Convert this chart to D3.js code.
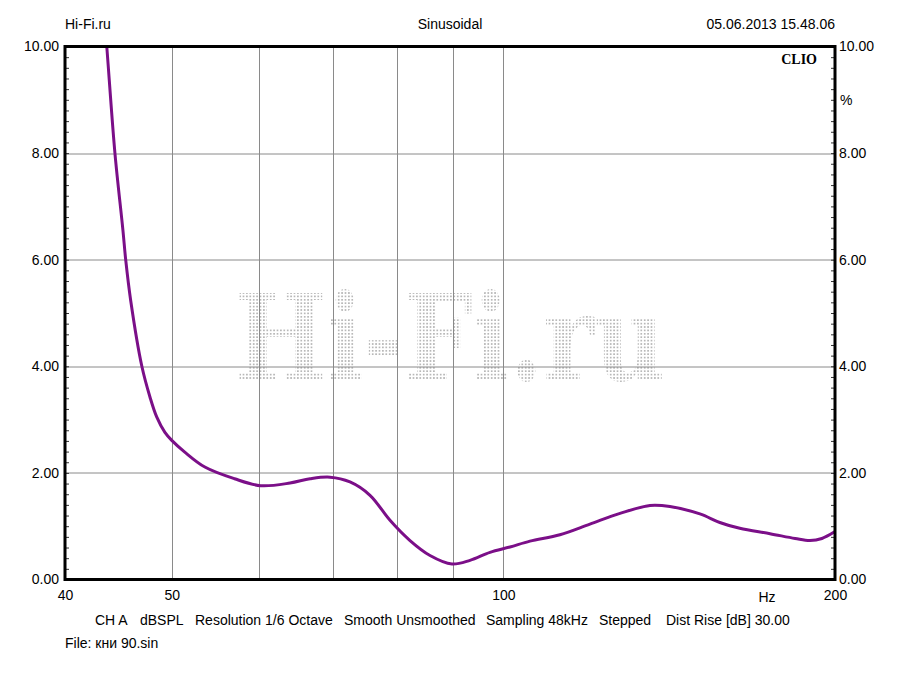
<!DOCTYPE html>
<html>
<head>
<meta charset="utf-8">
<script src="https://cdn.jsdelivr.net/npm/d3@7"></script>
<style>
  body { margin: 0; background: #fff; }
  text { font-family: "Liberation Sans", Arial, sans-serif; font-size: 14px; fill: #000; }
</style>
</head>
<body>
<div id="chart"></div>
<script>
// measured curve (Hz, %)
var freqs = [43.2, 43.65, 44.4, 45.15, 45.41, 45.89, 46.97, 47.78, 48.45, 49.29, 50.0,
    51.38, 53.58, 57.01, 60.2, 64.02, 66.76, 69.6, 72.57, 75.67, 78.9, 82.27, 85.78,
    89.81, 93.26, 97.24, 101.39, 105.72, 112.54, 119.83, 127.6, 135.86, 141.65, 150.8,
    157.2, 163.9, 174.6, 184.0, 189.8, 194.6, 200];
var values = [11.2, 10.0, 8.0, 6.55, 6.0, 5.23, 4.0, 3.42, 3.05, 2.76, 2.61,
    2.39, 2.11, 1.89, 1.76, 1.81, 1.89, 1.92, 1.83, 1.58, 1.11, 0.73, 0.45,
    0.29, 0.36, 0.51, 0.61, 0.72, 0.84, 1.04, 1.24, 1.39, 1.37, 1.23,
    1.07, 0.96, 0.86, 0.77, 0.73, 0.77, 0.90];

var xTickLabels = [40, 50, 100, 200];
var xGrid = [50, 60, 70, 80, 90, 100];
var yTicks = [0, 2, 4, 6, 8, 10];
var yGrid = [2, 4, 6, 8];

var headerLeft = "Hi-Fi.ru",
    headerMid = "Sinusoidal",
    headerRight = "05.06.2013 15.48.06";
var infoItems = ["CH A", "dBSPL", "Resolution 1/6 Octave", "Smooth Unsmoothed",
    "Sampling 48kHz", "Stepped", "Dist Rise [dB] 30.00"];
var infoX = [95, 140, 195, 344, 486, 599, 666];
var fileLabel = "File: кни 90.sin";

var full_width = 900, full_height = 675;
var margin = { top: 46.5, right: 65, bottom: 95.5, left: 65 };
var width = full_width - margin.left - margin.right;
var height = full_height - margin.top - margin.bottom;

var x = d3.scaleLog()
    .domain([40, 200])
    .range([0, width]);

var y = d3.scaleLinear()
    .domain([0, 10])
    .range([height, 0]);

var svg = d3.select("#chart")
    .append("svg")
    .attr("width", full_width)
    .attr("height", full_height);

var defs = svg.append("defs");
var pat = defs.append("pattern")
    .attr("id", "dots")
    .attr("patternUnits", "userSpaceOnUse")
    .attr("width", 3.4)
    .attr("height", 3.4);
pat.append("circle")
    .attr("cx", 1.7).attr("cy", 1.7).attr("r", 0.95)
    .attr("fill", "#a8a8a8");

defs.append("clipPath").attr("id", "plotClip")
    .append("rect")
    .attr("width", width)
    .attr("height", height);

var g = svg.append("g")
    .attr("transform", "translate(" + margin.left + "," + margin.top + ")");

// watermark
g.append("text")
    .attr("x", 235 - margin.left)
    .attr("y", 380 - margin.top)
    .attr("textLength", 430)
    .attr("lengthAdjust", "spacingAndGlyphs")
    .style("font-family", "'DejaVu Serif', serif")
    .style("font-weight", "bold")
    .style("font-size", "119px")
    .style("fill", "url(#dots)")
    .text("Hi-Fi.ru");

// grid
g.selectAll(".vgrid")
    .data(xGrid)
    .enter().append("line")
    .attr("class", "vgrid")
    .attr("x1", function(d) { return Math.round(x(d)) + 0.5; })
    .attr("x2", function(d) { return Math.round(x(d)) + 0.5; })
    .attr("y1", 0)
    .attr("y2", height)
    .attr("stroke", "#8a8a8a")
    .attr("stroke-width", 1);

g.selectAll(".hgrid")
    .data(yGrid)
    .enter().append("line")
    .attr("class", "hgrid")
    .attr("x1", 0)
    .attr("x2", width)
    .attr("y1", function(d) { return Math.round(y(d)) + 0.5; })
    .attr("y2", function(d) { return Math.round(y(d)) + 0.5; })
    .attr("stroke", "#8a8a8a")
    .attr("stroke-width", 1);

// minor ticks (inside, every 0.2)
var minor = d3.range(0, 10.01, 0.2);
var leftMinor = g.append("g")
    .call(d3.axisLeft(y).tickValues(minor).tickSize(-4).tickFormat(""));
var rightMinor = g.append("g")
    .attr("transform", "translate(" + width + ",0)")
    .call(d3.axisRight(y).tickValues(minor).tickSize(-4).tickFormat(""));
[leftMinor, rightMinor].forEach(function(a) {
    a.select(".domain").remove();
    a.selectAll("line").attr("stroke", "#333");
});

// curve
var line = d3.line()
    .x(function(d, i) { return x(freqs[i]); })
    .y(function(d) { return y(d); })
    .curve(d3.curveCatmullRom.alpha(0.5));

g.append("path")
    .datum(values)
    .attr("clip-path", "url(#plotClip)")
    .attr("fill", "none")
    .attr("stroke", "#7b0f88")
    .attr("stroke-width", 3)
    .attr("d", line);

// frame
g.append("rect")
    .attr("width", width)
    .attr("height", height)
    .attr("fill", "none")
    .attr("stroke", "#000")
    .attr("stroke-width", 3);

// Y axes labels
var yLeft = g.append("g")
    .call(d3.axisLeft(y).tickValues(yTicks).tickSize(0).tickPadding(6).tickFormat(d3.format(".2f")));
var yRight = g.append("g")
    .attr("transform", "translate(" + width + ",0)")
    .call(d3.axisRight(y).tickValues(yTicks).tickSize(0).tickPadding(4).tickFormat(d3.format(".2f")));
[yLeft, yRight].forEach(function(a) {
    a.select(".domain").remove();
    a.selectAll("text").style("font-size", "14px").style("font-family", "'Liberation Sans', Arial, sans-serif");
});

// X axis labels
var xAxis = g.append("g")
    .attr("transform", "translate(0," + height + ")")
    .call(d3.axisBottom(x).tickValues(xTickLabels).tickSize(0).tickPadding(11).tickFormat(d3.format("d")));
xAxis.select(".domain").remove();
xAxis.selectAll("text").style("font-size", "14px").style("font-family", "'Liberation Sans', Arial, sans-serif");

g.append("text")
    .attr("x", 767 - margin.left)
    .attr("y", height + 22)
    .style("text-anchor", "middle")
    .text("Hz");

g.append("text")
    .attr("x", width + 5)
    .attr("y", 105 - margin.top)
    .text("%");

g.append("text")
    .attr("x", 817 - margin.left)
    .attr("y", 64 - margin.top)
    .style("text-anchor", "end")
    .style("font-family", "'Liberation Serif', 'Times New Roman', serif")
    .style("font-weight", "bold")
    .style("font-size", "14px")
    .text("CLIO");

// header
svg.append("text").attr("x", 65).attr("y", 29).text(headerLeft);
svg.append("text").attr("x", 450).attr("y", 29).style("text-anchor", "middle").text(headerMid);
svg.append("text").attr("x", 835).attr("y", 29).style("text-anchor", "end").text(headerRight);

// footer
svg.selectAll(".info")
    .data(infoItems)
    .enter().append("text")
    .attr("class", "info")
    .attr("x", function(d, i) { return infoX[i]; })
    .attr("y", 625)
    .text(function(d) { return d; });

svg.append("text").attr("x", 65).attr("y", 648).text(fileLabel);
</script>
</body>
</html>
